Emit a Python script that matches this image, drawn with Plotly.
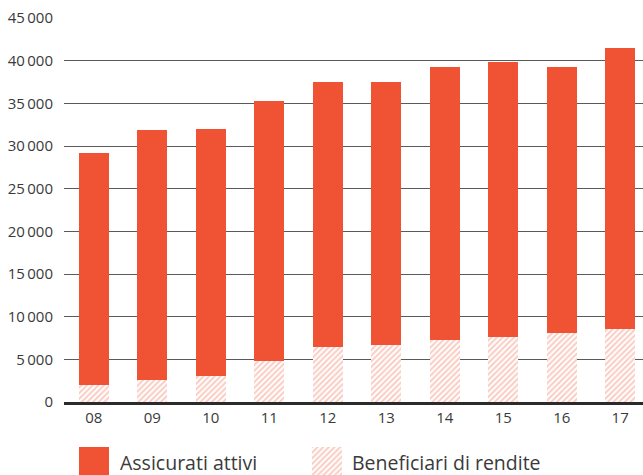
import plotly.graph_objects as go

anni = ["08", "09", "10", "11", "12", "13", "14", "15", "16", "17"]
beneficiari = [2000, 2600, 3100, 4800, 6500, 6700, 7300, 7600, 8100, 8600]
assicurati = [27200, 29300, 28900, 30500, 31000, 30800, 31900, 32200, 31200, 32900]
y_ticks = [0, 5000, 10000, 15000, 20000, 25000, 30000, 35000, 40000, 45000]
y_labels = ["0" if v == 0 else f"{v // 1000}\u2009{v % 1000:03d}" for v in y_ticks]
legend_names = ["Assicurati attivi", "Beneficiari di rendite"]

RED = "#F05234"
HATCH = "#F39A85"
TXT = "#3a3a3a"
FONT = "Open Sans"

W, H = 643, 475
top_m = 18
plot_bottom = 402

pattern = dict(shape="/", fgcolor=HATCH, bgcolor="white", size=4, solidity=0.5)

fig = go.Figure()

fig.add_trace(go.Bar(
    x=anni, y=beneficiari, name=legend_names[1],
    marker=dict(color="white", line=dict(width=0), pattern=pattern),
    width=0.51, showlegend=False, hoverinfo="skip",
))
fig.add_trace(go.Bar(
    x=anni, y=assicurati, name=legend_names[0],
    marker=dict(color=RED, line=dict(width=0)),
    width=0.51, showlegend=False, hoverinfo="skip",
))

# legend swatches on their own small axes
fig.add_trace(go.Bar(x=[0], y=[1], xaxis="x2", yaxis="y2", width=1,
                     marker=dict(color=RED, line=dict(width=0)), showlegend=False, hoverinfo="skip"))
fig.add_trace(go.Bar(x=[0], y=[1], xaxis="x3", yaxis="y3", width=1,
                     marker=dict(color="white", line=dict(width=0), pattern=pattern),
                     showlegend=False, hoverinfo="skip"))

ph = H - top_m
ydom0 = (H - plot_bottom) / ph
sw_top = (H - 447) / ph

def fx(px):
    return px / W

hidden = dict(visible=False, fixedrange=True, automargin=False)

fig.update_layout(
    width=W, height=H,
    margin=dict(l=0, r=0, t=top_m, b=0, pad=0, autoexpand=False),
    paper_bgcolor="white", plot_bgcolor="white",
    barmode="stack", bargap=0,
    font=dict(family=FONT, color=TXT, size=15),
    xaxis=dict(domain=[fx(64), 1], type="category", range=[-0.51, 9.39],
               showgrid=False, showline=True, linecolor="#2b2b2b", linewidth=3,
               layer="above traces", automargin=False,
               ticks="", tickfont=dict(size=15, color=TXT), fixedrange=True),
    yaxis=dict(domain=[ydom0, 1], range=[0, 45000], tickvals=y_ticks, ticktext=y_labels,
               showgrid=True, gridcolor="#5a5a5a", gridwidth=1,
               zeroline=False, automargin=False,
               ticks="", ticklabelstandoff=10, tickfont=dict(size=15, color=TXT),
               fixedrange=True),
    xaxis2=dict(domain=[fx(79), fx(109)], anchor="y2", range=[-0.5, 0.5], **hidden),
    yaxis2=dict(domain=[0, sw_top], anchor="x2", range=[0, 1], **hidden),
    xaxis3=dict(domain=[fx(312), fx(342)], anchor="y3", range=[-0.5, 0.5], **hidden),
    yaxis3=dict(domain=[0, sw_top], anchor="x3", range=[0, 1], **hidden),
    showlegend=False,
)

fig.add_annotation(text=legend_names[0], xref="paper", yref="paper",
                   x=fx(118), y=(H - 462) / ph, xanchor="left", yanchor="middle",
                   showarrow=False, font=dict(size=19.5, color=TXT, family=FONT))
fig.add_annotation(text=legend_names[1], xref="paper", yref="paper",
                   x=fx(350), y=(H - 462) / ph, xanchor="left", yanchor="middle",
                   showarrow=False, font=dict(size=19.5, color=TXT, family=FONT))

fig.write_html("out.html", config={"displayModeBar": False},
               post_script="document.body.style.margin='0';document.body.style.overflow='hidden';")
